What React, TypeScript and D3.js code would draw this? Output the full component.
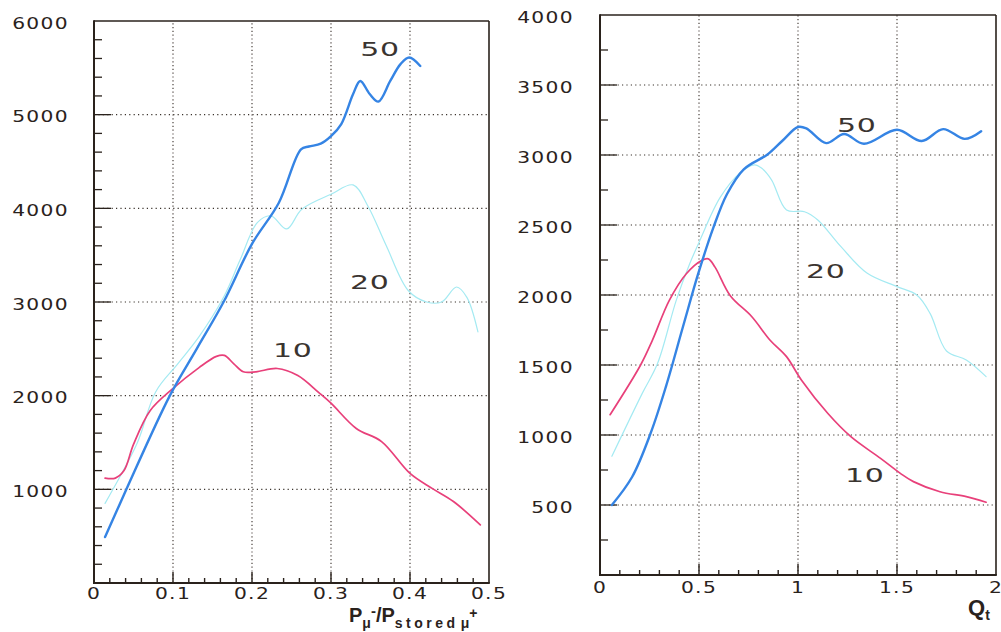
import React from "react";
import * as d3 from "d3";

// ---------- Left panel data (x = P_mu- / P_stored mu+) ----------
const leftX50 = [0.014, 0.041, 0.096, 0.13, 0.164, 0.2, 0.234, 0.262, 0.272, 0.287, 0.3, 0.313, 0.328, 0.337, 0.349, 0.36, 0.375, 0.388, 0.399, 0.413];
const leftY50 = [490, 1000, 2000, 2500, 3000, 3620, 4060, 4630, 4660, 4690, 4770, 4900, 5220, 5360, 5220, 5140, 5360, 5540, 5610, 5520];

const leftX20 = [0.014, 0.024, 0.055, 0.078, 0.106, 0.133, 0.164, 0.185, 0.207, 0.224, 0.244, 0.263, 0.3, 0.328, 0.347, 0.37, 0.398, 0.421, 0.44, 0.459, 0.472, 0.486];
const leftY20 = [850, 1000, 1500, 2040, 2340, 2630, 3050, 3450, 3850, 3920, 3780, 3990, 4150, 4250, 4020, 3600, 3120, 3000, 3000, 3160, 3050, 2680];

const leftX10 = [0.014, 0.027, 0.038, 0.05, 0.071, 0.099, 0.133, 0.155, 0.165, 0.177, 0.189, 0.205, 0.232, 0.258, 0.285, 0.3, 0.332, 0.364, 0.4, 0.428, 0.455, 0.489];
const leftY10 = [1120, 1120, 1200, 1480, 1840, 2070, 2300, 2420, 2430, 2340, 2255, 2255, 2290, 2215, 2030, 1920, 1650, 1510, 1170, 1010, 870, 620];

// ---------- Right panel data (x = Q_t) ----------
const rightX50 = [0.06, 0.162, 0.256, 0.333, 0.419, 0.496, 0.573, 0.641, 0.726, 0.846, 0.92, 1.0, 1.042, 1.142, 1.233, 1.333, 1.5, 1.625, 1.733, 1.842, 1.925];
const rightY50 = [500, 700, 1014, 1346, 1773, 2152, 2483, 2720, 2898, 3004, 3100, 3200, 3190, 3085, 3150, 3080, 3180, 3100, 3185, 3115, 3170];

const rightX20 = [0.06, 0.214, 0.291, 0.385, 0.453, 0.504, 0.607, 0.709, 0.78, 0.817, 0.867, 0.942, 1.033, 1.1, 1.217, 1.35, 1.5, 1.6, 1.667, 1.75, 1.85, 1.95];
const rightY20 = [848, 1299, 1512, 1962, 2223, 2389, 2697, 2874, 2930, 2905, 2821, 2607, 2595, 2536, 2345, 2155, 2060, 2000, 1869, 1600, 1536, 1417];

const rightX10 = [0.051, 0.205, 0.265, 0.35, 0.436, 0.513, 0.547, 0.581, 0.658, 0.767, 0.858, 0.942, 1.017, 1.15, 1.267, 1.417, 1.517, 1.583, 1.717, 1.85, 1.95];
const rightY10 = [1145, 1500, 1678, 1962, 2152, 2247, 2258, 2199, 1995, 1845, 1679, 1560, 1393, 1155, 988, 833, 726, 667, 595, 560, 520];

// ---------- Ticks ----------
const leftXTicks = [0, 0.1, 0.2, 0.3, 0.4, 0.5];
const leftXTickLabels = ["0", "0.1", "0.2", "0.3", "0.4", "0.5"];
const leftYTicks = [1000, 2000, 3000, 4000, 5000, 6000];
const rightXTicks = [0, 0.5, 1, 1.5, 2];
const rightXTickLabels = ["0", "0.5", "1", "1.5", "2"];
const rightYTicks = [500, 1000, 1500, 2000, 2500, 3000, 3500, 4000];

// ---------- Curve labels (data coords) ----------
const leftLabels = [
  { text: "50", x: 0.337, y: 5626 },
  { text: "20", x: 0.324, y: 3134 },
  { text: "10", x: 0.2266, y: 2417 },
];
const rightLabels = [
  { text: "50", x: 1.197, y: 3164 },
  { text: "20", x: 1.04, y: 2121 },
  { text: "10", x: 1.237, y: 664 },
];

const BLUE = "#3584e4";
const CYAN = "#a4eaf2";
const RED = "#e8407a";
const INK = "#2a221c";

type Series = { xs: number[]; ys: number[]; color: string; width: number };

function WideText(props: { x: number; y: number; text: string; anchor: string; size: number; sx: number; ls?: number; fill?: string }) {
  const { x, y, text, anchor, size, sx, ls = 0, fill = INK } = props;
  return (
    <text
      transform={`translate(${x},${y}) scale(${sx},1)`}
      textAnchor={anchor}
      fontFamily="DejaVu Sans"
      fontSize={size}
      letterSpacing={ls}
      fill={fill}
    >
      {text}
    </text>
  );
}

function Panel(props: {
  xDomain: [number, number];
  yDomain: [number, number];
  xRange: [number, number];
  yRange: [number, number];
  xTicks: number[];
  xTickLabels: string[];
  xMinorStep: number;
  yTicks: number[];
  yMinorStep: number;
  series: Series[];
  labels: { text: string; x: number; y: number }[];
  yLabelRight: number;
  xLabelBaseline: number;
}) {
  const { xDomain, yDomain, xRange, yRange, xTicks, xTickLabels, xMinorStep, yTicks, yMinorStep, series, labels, yLabelRight, xLabelBaseline } = props;
  const x = d3.scaleLinear().domain(xDomain).range(xRange);
  const y = d3.scaleLinear().domain(yDomain).range(yRange);
  const [x0, x1] = xRange;
  const [y0, y1] = yRange;

  const xMinor = d3.range(xDomain[0], xDomain[1] + 1e-9, xMinorStep);
  const yMinor = d3.range(yDomain[0], yDomain[1] + 1e-9, yMinorStep);
  const isMajor = (v: number, arr: number[]) => arr.some((t) => Math.abs(t - v) < 1e-6) || Math.abs(v) < 1e-9;

  const line = d3
    .line<[number, number]>()
    .x((d) => x(d[0]))
    .y((d) => y(d[1]))
    .curve(d3.curveCatmullRom.alpha(0.5));

  return (
    <g>
      {/* grid */}
      {xTicks
        .filter((t) => t > xDomain[0] && t < xDomain[1])
        .map((t) => (
          <line key={"gx" + t} x1={x(t)} x2={x(t)} y1={y0} y2={y1} stroke="#3a322c" strokeWidth={1.1} strokeDasharray="1.2,2.6" />
        ))}
      {yTicks
        .filter((t) => t > yDomain[0] && t < yDomain[1])
        .map((t) => (
          <line key={"gy" + t} x1={x0} x2={x1} y1={y(t)} y2={y(t)} stroke="#3a322c" strokeWidth={1.1} strokeDasharray="1.2,3.2" />
        ))}
      {/* minor + major ticks */}
      {xMinor.map((v) => {
        const major = isMajor(v, xTicks);
        if (Math.abs(v - xDomain[0]) < 1e-9 || Math.abs(v - xDomain[1]) < 1e-9) return null;
        return <line key={"tx" + v} x1={x(v)} x2={x(v)} y1={y0} y2={y0 - (major ? 11 : 5)} stroke={INK} strokeWidth={1.4} />;
      })}
      {yMinor.map((v) => {
        const major = isMajor(v, yTicks);
        if (Math.abs(v - yDomain[0]) < 1e-9 || Math.abs(v - yDomain[1]) < 1e-9) return null;
        return <line key={"ty" + v} x1={x0} x2={x0 + (major ? 17 : 8)} y1={y(v)} y2={y(v)} stroke={INK} strokeWidth={1.3} />;
      })}
      {/* frame */}
      <line x1={x0} x2={x1} y1={y1} y2={y1} stroke={INK} strokeWidth={1.6} />
      <line x1={x1} x2={x1} y1={y1} y2={y0} stroke={INK} strokeWidth={1.6} />
      <line x1={x0} x2={x0} y1={y1 - 0.8} y2={y0 + 1} stroke={INK} strokeWidth={2} />
      <line x1={x0 - 1} x2={x1 + 0.8} y1={y0} y2={y0} stroke={INK} strokeWidth={2} />
      {/* series */}
      {series.map((s, i) => (
        <path
          key={"s" + i}
          d={line(s.xs.map((v, j) => [v, s.ys[j]] as [number, number])) || ""}
          fill="none"
          stroke={s.color}
          strokeWidth={s.width}
          strokeLinejoin="round"
          strokeLinecap="round"
        />
      ))}
      {/* tick labels */}
      {xTicks.map((t, i) => (
        <WideText key={"lx" + t} x={x(t)} y={xLabelBaseline} text={xTickLabels[i]} anchor="middle" size={15} sx={1.35} ls={1} />
      ))}
      {yTicks.map((t) => (
        <WideText key={"ly" + t} x={yLabelRight} y={y(t) + 7.5} text={String(t)} anchor="end" size={15} sx={1.35} ls={1} />
      ))}
      {/* curve labels */}
      {labels.map((l) => (
        <WideText key={"cl" + l.text} x={x(l.x)} y={y(l.y)} text={l.text} anchor="start" size={20} sx={1.5} ls={0.5} fill="#3a3430" />
      ))}
    </g>
  );
}

export default function App() {
  const leftSeries: Series[] = [
    { xs: leftX20, ys: leftY20, color: CYAN, width: 1.2 },
    { xs: leftX10, ys: leftY10, color: RED, width: 1.7 },
    { xs: leftX50, ys: leftY50, color: BLUE, width: 2.4 },
  ];
  const rightSeries: Series[] = [
    { xs: rightX20, ys: rightY20, color: CYAN, width: 1.2 },
    { xs: rightX10, ys: rightY10, color: RED, width: 1.7 },
    { xs: rightX50, ys: rightY50, color: BLUE, width: 2.4 },
  ];
  return (
    <svg width={1001} height={632} style={{ position: "absolute", left: 0, top: 0, background: "#fff" }}>
      <rect x={0} y={0} width={1001} height={632} fill="#fff" />
      <Panel
        xDomain={[0, 0.5]}
        yDomain={[0, 6000]}
        xRange={[94, 489]}
        yRange={[583, 21]}
        xTicks={leftXTicks}
        xTickLabels={leftXTickLabels}
        xMinorStep={0.02}
        yTicks={leftYTicks}
        yMinorStep={200}
        series={leftSeries}
        labels={leftLabels}
        yLabelRight={69}
        xLabelBaseline={599}
      />
      <Panel
        xDomain={[0, 2]}
        yDomain={[0, 4000]}
        xRange={[600, 996]}
        yRange={[575, 15]}
        xTicks={rightXTicks}
        xTickLabels={rightXTickLabels}
        xMinorStep={0.1}
        yTicks={rightYTicks}
        yMinorStep={250}
        series={rightSeries}
        labels={rightLabels}
        yLabelRight={574}
        xLabelBaseline={593}
      />
      {/* axis titles */}
      <text x={349} y={622} fontFamily="Liberation Sans" fontWeight="bold" fontSize={20} fill={INK}>
        P
        <tspan fontSize={14} dy={6}>μ</tspan>
        <tspan fontSize={15} dy={-12}>-</tspan>
        <tspan fontSize={20} dy={6}>/P</tspan>
        <tspan fontSize={14} dy={6} letterSpacing={3.5}>stored</tspan>
        <tspan fontSize={14} dx={2}>μ</tspan>
        <tspan fontSize={14} dy={-10}>+</tspan>
      </text>
      <text x={968} y={615} fontFamily="Liberation Sans" fontWeight="bold" fontSize={22} fill={INK}>
        Q
        <tspan fontSize={14} dy={5}>t</tspan>
      </text>
    </svg>
  );
}
